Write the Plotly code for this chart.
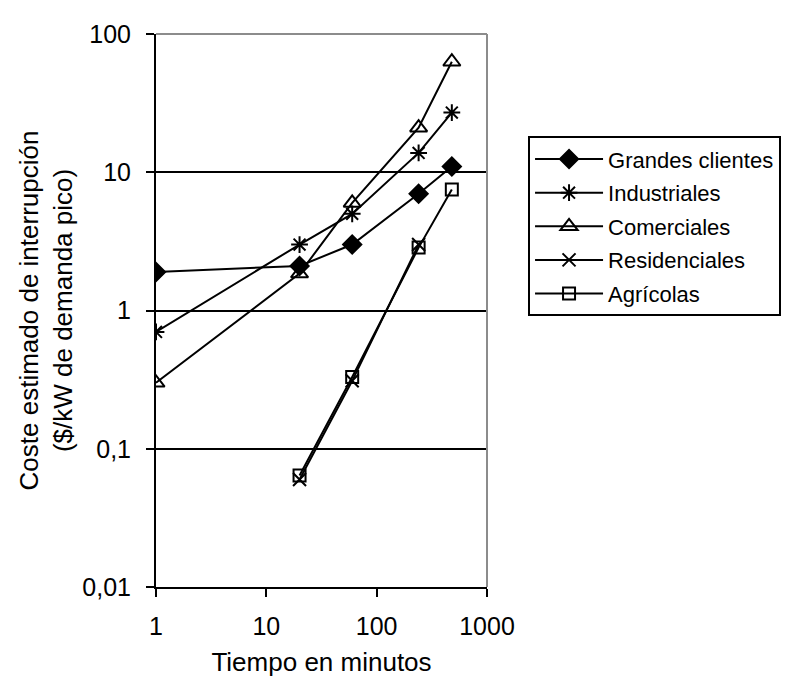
import plotly.graph_objects as go

minutos = [1, 20, 60, 240, 480]

grandes = [1.9, 2.1, 3.0, 7.0, 11.0]
industriales = [0.7, 3.0, 5.0, 13.8, 27.0]
comerciales = [0.3, 1.85, 6.0, 21.0, 63.0]
residenciales = [None, 0.06, 0.31, 3.0, None]
agricolas = [None, 0.064, 0.33, 2.85, 7.5]

y_ticks = [0.01, 0.1, 1, 10, 100]
y_labels = ['0,01', '0,1', '1', '10', '100']
x_ticks = [1, 10, 100, 1000]
x_labels = ['1', '10', '100', '1000']

FAM = 'Liberation Sans, Arial, sans-serif'

series = [
    ('Grandes clientes', grandes, 'diamond', 14),
    ('Industriales', industriales, 'asterisk-open', 14),
    ('Comerciales', comerciales, 'triangle-up-open', 15),
    ('Residenciales', residenciales, 'x-thin-open', 13),
    ('Agrícolas', agricolas, 'square-open', 12),
]

fig = go.Figure()
for name, vals, sym, size in series:
    fig.add_trace(go.Scatter(
        x=minutos, y=vals, name=name, mode='lines+markers', legendgroup=name,
        line=dict(color='black', width=2),
        marker=dict(symbol=sym, size=size, color='black',
                    line=dict(color='black', width=2)),
    ))

# la página tiene 8px de margen en el body
fig.update_layout(
    width=800, height=682,
    margin=dict(l=148, r=321, t=17, b=103),
    paper_bgcolor='white', plot_bgcolor='white',
    font=dict(family=FAM, size=22, color='black'),
    legend=dict(x=1.124, y=0.815, xanchor='left', yanchor='top',
                bordercolor='black', borderwidth=2, tracegroupgap=2,
                font=dict(family=FAM, size=22, color='black'), itemwidth=68),
    showlegend=True,
)
fig.update_xaxes(
    type='log', range=[0, 3], tickvals=x_ticks, ticktext=x_labels,
    tickfont=dict(family=FAM, size=25, color='black'), ticklabelstandoff=8,
    showline=True, linecolor='black', linewidth=2,
    ticks='outside', ticklen=8, tickwidth=2, tickcolor='black',
    showgrid=False, zeroline=False,
    title=dict(text='Tiempo en minutos', font=dict(family=FAM, size=26, color='black'),
               standoff=14),
)
fig.update_yaxes(
    type='log', range=[-2, 2], tickvals=y_ticks, ticktext=y_labels,
    tickfont=dict(family=FAM, size=25, color='black'), ticklabelstandoff=10,
    showline=True, linecolor='black', linewidth=2,
    ticks='outside', ticklen=8, tickwidth=2, tickcolor='black',
    showgrid=True, gridcolor='black', gridwidth=2, zeroline=False,
    title=dict(text='Coste estimado de interrupción<br>(\u0024/kW de demanda pico)',
               font=dict(family=FAM, size=26, color='black'), standoff=2),
)
# marco gris superior y derecho
fig.add_shape(type='line', xref='paper', yref='paper', x0=0, x1=1, y0=1, y1=1,
              line=dict(color='#8c8c8c', width=2), layer='above')
fig.add_shape(type='line', xref='paper', yref='paper', x0=1, x1=1, y0=0, y1=1,
              line=dict(color='#8c8c8c', width=2), layer='above')

fig.write_html('out.html')
